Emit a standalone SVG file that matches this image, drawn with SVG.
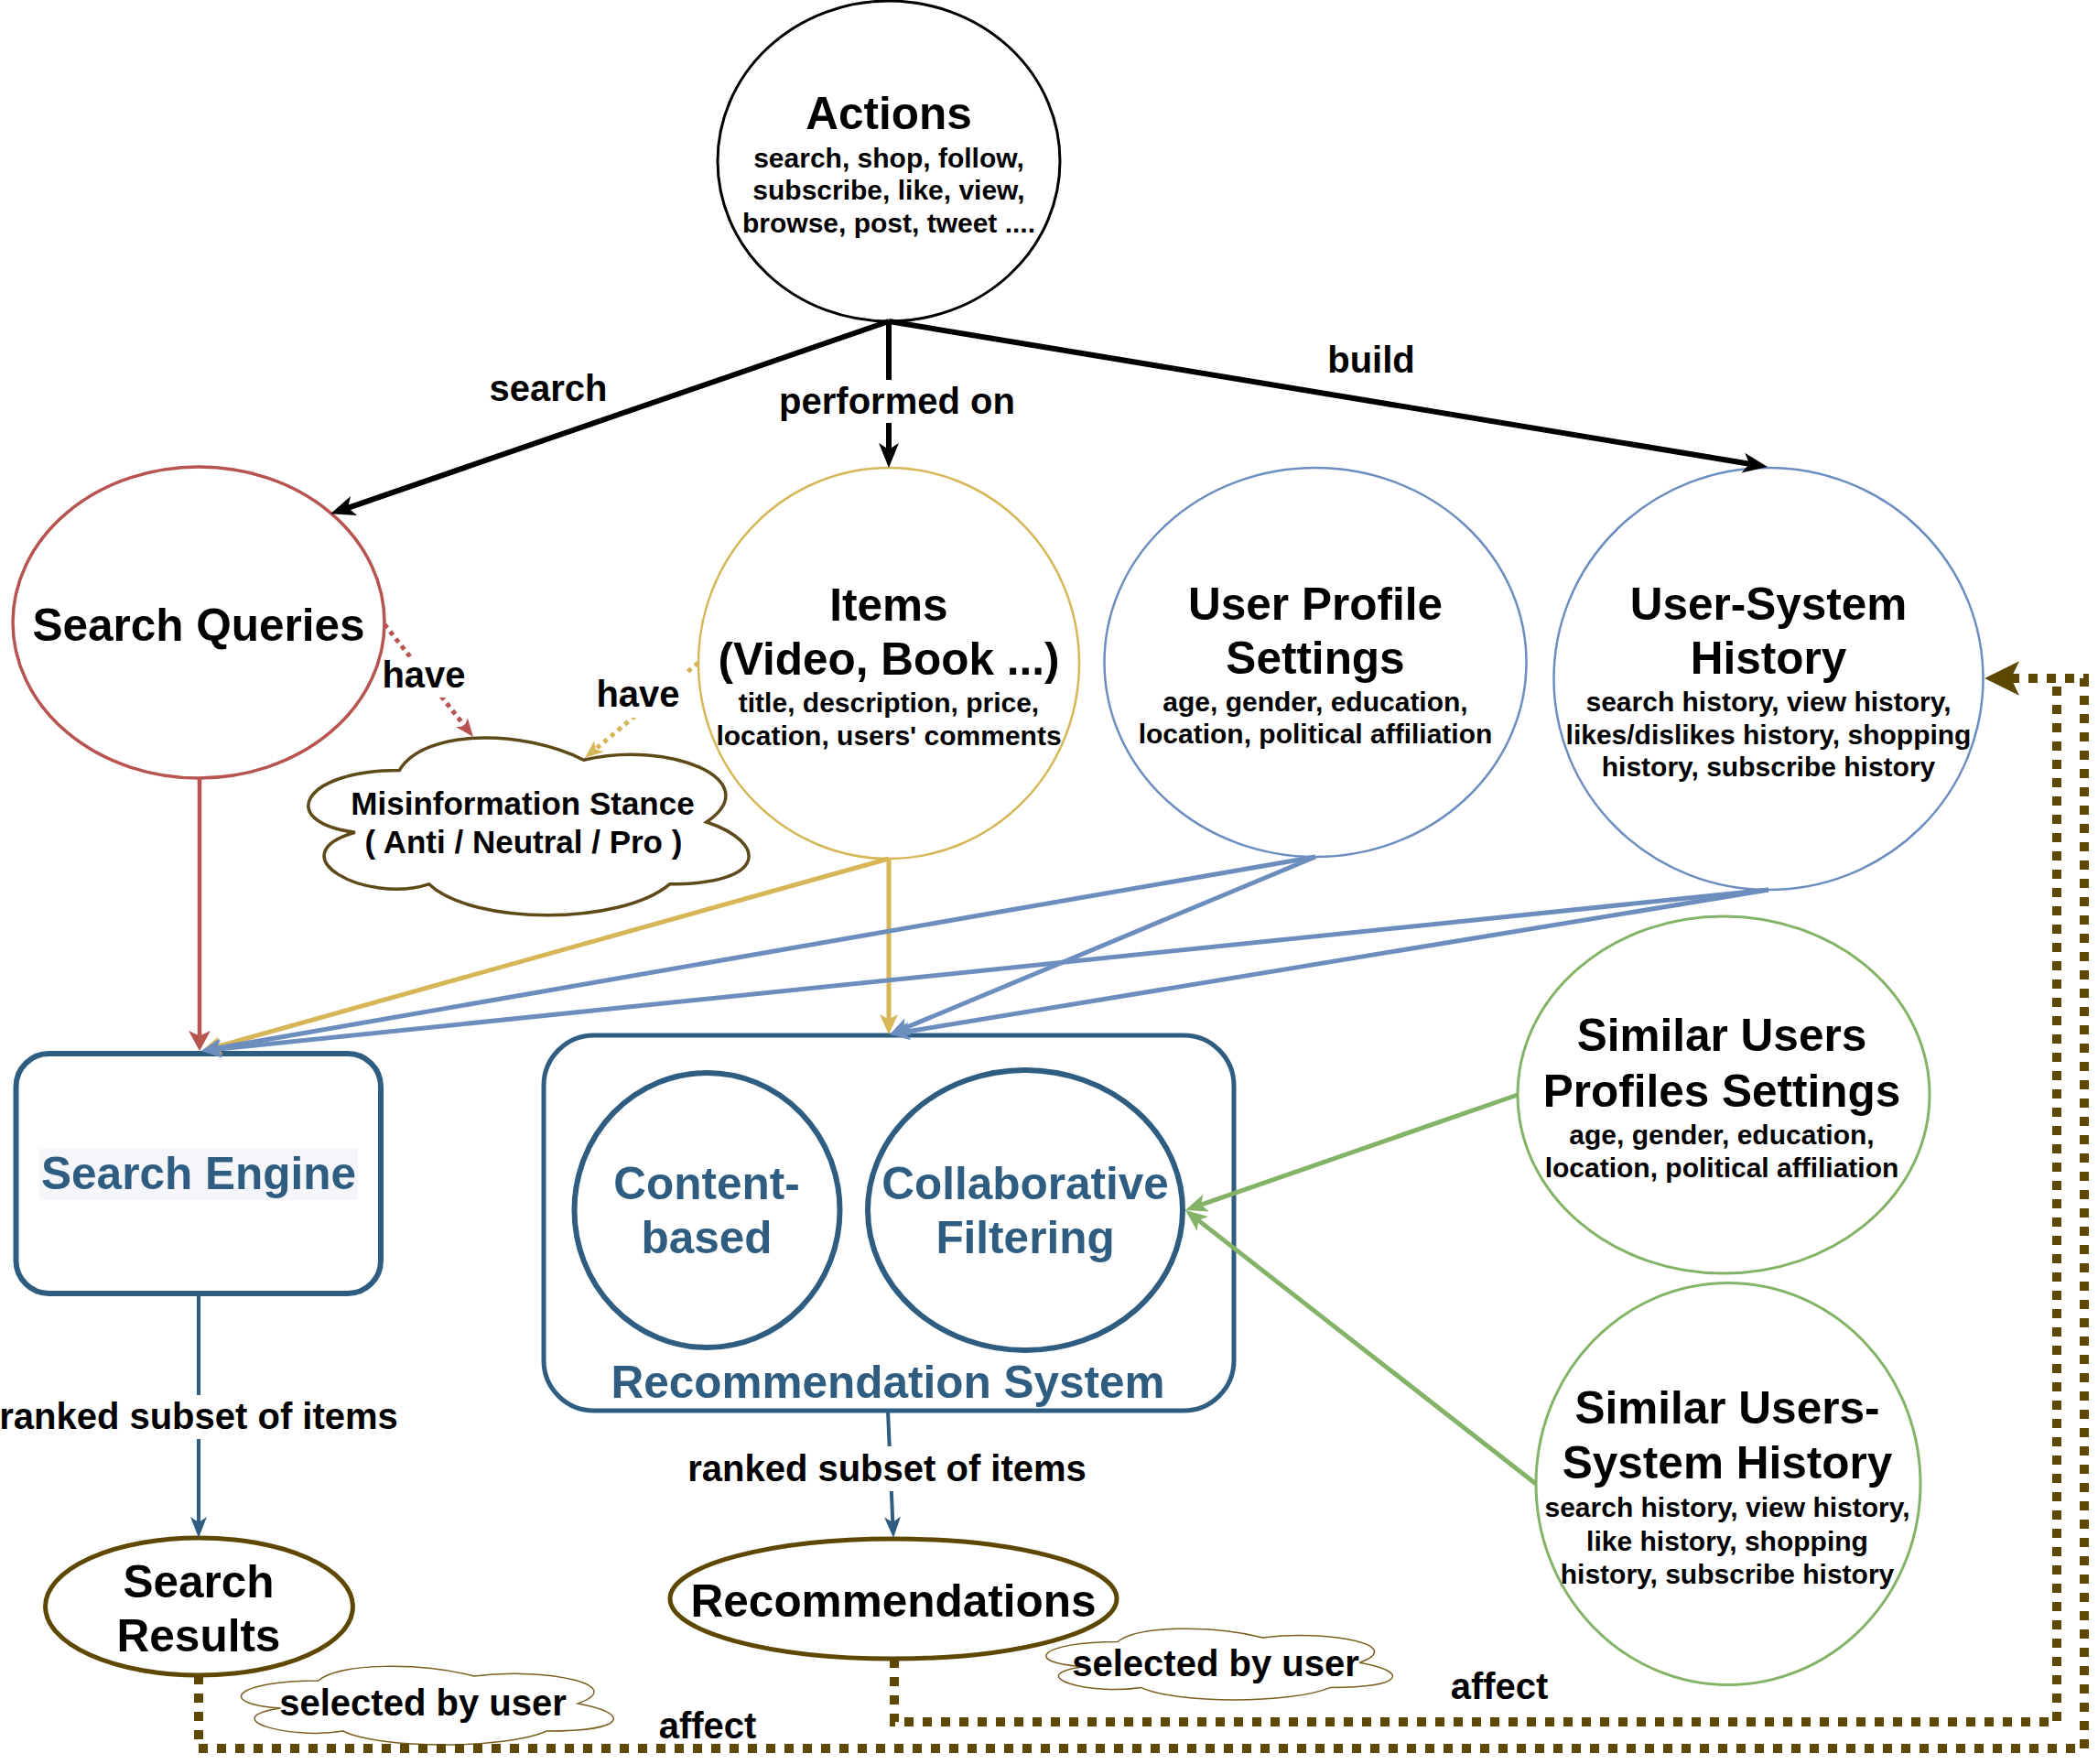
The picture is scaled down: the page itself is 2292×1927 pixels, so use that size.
<svg xmlns="http://www.w3.org/2000/svg" width="2292" height="1927" viewBox="0 0 2292 1927">
<style>
text{font-family:"Liberation Sans",Arial,Helvetica,sans-serif;font-weight:bold;text-anchor:middle;fill:#000}
.h{font-size:49.5px}
.s{font-size:30px}
.m{font-size:35px}
.l{font-size:40px}
.db{fill:#2f5d82}
.nd{fill:#fff}
.bg{fill:#fff;stroke:none}
.blk{stroke:#000;stroke-width:6}
.red{stroke:#b85450}
.yel{stroke:#d6b656}
.blu{stroke:#6c8ebf}
.grn{stroke:#82b366}
.nav{stroke:#2f5d82}
.brn{stroke:#5e4700;stroke-width:10;stroke-dasharray:10 10}
</style>
<defs>
<marker id="mk-black" markerUnits="userSpaceOnUse" viewBox="-40 -20 42 40" markerWidth="42" markerHeight="40" refX="-20" refY="0" orient="auto"><path d="M0,0 L-27,-11 L-20,0 L-27,11 Z" fill="#000"/></marker>
<marker id="mk-red" markerUnits="userSpaceOnUse" viewBox="-40 -20 42 40" markerWidth="42" markerHeight="40" refX="-16.5" refY="0" orient="auto"><path d="M0,0 L-22,-12 L-16.5,0 L-22,12 Z" fill="#b85450"/></marker>
<marker id="mk-red-s" markerUnits="userSpaceOnUse" viewBox="-40 -20 42 40" markerWidth="42" markerHeight="40" refX="-15" refY="0" orient="auto"><path d="M0,0 L-20,-8 L-15,0 L-20,8 Z" fill="#b85450"/></marker>
<marker id="mk-yel" markerUnits="userSpaceOnUse" viewBox="-40 -20 42 40" markerWidth="42" markerHeight="40" refX="-16.5" refY="0" orient="auto"><path d="M0,0 L-22,-10 L-16.5,0 L-22,10 Z" fill="#d6b656"/></marker>
<marker id="mk-yel-s" markerUnits="userSpaceOnUse" viewBox="-40 -20 42 40" markerWidth="42" markerHeight="40" refX="-15" refY="0" orient="auto"><path d="M0,0 L-20,-8 L-15,0 L-20,8 Z" fill="#d6b656"/></marker>
<marker id="mk-blu" markerUnits="userSpaceOnUse" viewBox="-40 -20 42 40" markerWidth="42" markerHeight="40" refX="-16.5" refY="0" orient="auto"><path d="M0,0 L-22,-10 L-16.5,0 L-22,10 Z" fill="#6c8ebf"/></marker>
<marker id="mk-grn" markerUnits="userSpaceOnUse" viewBox="-40 -20 42 40" markerWidth="42" markerHeight="40" refX="-18" refY="0" orient="auto"><path d="M0,0 L-24,-10 L-18,0 L-24,10 Z" fill="#82b366"/></marker>
<marker id="mk-nav" markerUnits="userSpaceOnUse" viewBox="-40 -20 42 40" markerWidth="42" markerHeight="40" refX="-17" refY="0" orient="auto"><path d="M0,0 L-23,-9 L-17,0 L-23,9 Z" fill="#2f5d82"/></marker>
<marker id="mk-brn" markerUnits="userSpaceOnUse" viewBox="-50 -25 52 50" markerWidth="52" markerHeight="50" refX="-29" refY="0" orient="auto"><path d="M0,0 L-38,-18.7 L-29,0 L-38,18.7 Z" fill="#5e4700"/></marker>
</defs>
<rect x="0" y="0" width="2292" height="1927" fill="#fff"/>

<g id="n-actions">
<ellipse class="nd" cx="971" cy="176" rx="187" ry="175" stroke="#000" stroke-width="3"/>
<text class="h" x="971" y="141">Actions</text>
<text class="s" x="971" y="183">search, shop, follow,</text>
<text class="s" x="971" y="218">subscribe, like, view,</text>
<text class="s" x="971" y="254">browse, post, tweet ....</text>
</g>

<g id="n-search-queries">
<ellipse class="nd" cx="217" cy="680" rx="203" ry="170" stroke="#b85450" stroke-width="3.5"/>
<text class="h" x="217" y="700">Search Queries</text>
</g>

<g id="n-items">
<ellipse class="nd" cx="971" cy="724.5" rx="208" ry="213.5" stroke="#d6b656" stroke-width="2.5"/>
<text class="h" x="971" y="678">Items</text>
<text class="h" x="971" y="737">(Video, Book ...)</text>
<text class="s" x="971" y="778">title, description, price,</text>
<text class="s" x="971" y="814">location, users' comments</text>
</g>

<g id="n-misinfo">
<path class="nd" d="M436.3,841.5 C328.9,841.5 302,898 387.9,909.3 C302,934.2 398.7,988.4 468.5,965.8 C516.8,1011 677.9,1011 731.6,965.8 C839,965.8 839,920.6 771.9,898 C839,852.8 731.6,807.6 637.6,830.2 C570.5,796.3 463.1,796.3 436.3,841.5 Z" stroke="#5e4a18" stroke-width="3.5"/>
<text class="m" x="571" y="890">Misinformation Stance</text>
<text class="m" x="572" y="932">( Anti / Neutral / Pro )</text>
</g>

<g id="n-user-profile">
<ellipse class="nd" cx="1437" cy="723.5" rx="230.5" ry="212.5" stroke="#6c8ebf" stroke-width="2.5"/>
<text class="h" x="1437" y="677">User Profile</text>
<text class="h" x="1437" y="736">Settings</text>
<text class="s" x="1437" y="777">age, gender, education,</text>
<text class="s" x="1437" y="812">location, political affiliation</text>
</g>

<g id="n-user-history">
<ellipse class="nd" cx="1932" cy="741.5" rx="234.5" ry="230.5" stroke="#6c8ebf" stroke-width="2.5"/>
<text class="h" x="1932" y="677">User-System</text>
<text class="h" x="1932" y="736">History</text>
<text class="s" x="1932" y="777">search history, view history,</text>
<text class="s" x="1932" y="812.5">likes/dislikes history, shopping</text>
<text class="s" x="1932" y="848">history, subscribe history</text>
</g>

<g id="n-search-engine">
<rect class="nd" x="17.5" y="1151" width="398.5" height="262" rx="36" ry="36" stroke="#2f5d82" stroke-width="6"/>
<rect x="43" y="1255" width="348" height="56" fill="#f4f6f9"/>
<text class="h db" x="217" y="1299">Search Engine</text>
</g>

<g id="n-rec-system">
<rect class="nd" x="594" y="1131" width="754" height="410" rx="55" ry="55" stroke="#2f5d82" stroke-width="5"/>
<text class="h db" x="970" y="1527">Recommendation System</text>
</g>

<g id="n-content">
<ellipse class="nd" cx="772.5" cy="1322" rx="145" ry="150" stroke="#2f5d82" stroke-width="6"/>
<text class="h db" x="772" y="1310">Content-</text>
<text class="h db" x="772" y="1369">based</text>
</g>

<g id="n-collab">
<ellipse class="nd" cx="1120" cy="1322" rx="172" ry="153" stroke="#2f5d82" stroke-width="6"/>
<text class="h db" x="1120" y="1310">Collaborative</text>
<text class="h db" x="1120" y="1369">Filtering</text>
</g>

<g id="n-similar-profiles">
<ellipse class="nd" cx="1883" cy="1196" rx="225" ry="195" stroke="#82b366" stroke-width="3"/>
<text class="h" x="1881" y="1148">Similar Users</text>
<text class="h" x="1881" y="1209">Profiles Settings</text>
<text class="s" x="1881" y="1250">age, gender, education,</text>
<text class="s" x="1881" y="1286">location, political affiliation</text>
</g>

<g id="n-similar-history">
<ellipse class="nd" cx="1888" cy="1621" rx="210" ry="219.5" stroke="#82b366" stroke-width="3"/>
<text class="h" x="1887" y="1555">Similar Users-</text>
<text class="h" x="1887" y="1615">System History</text>
<text class="s" x="1887" y="1657">search history, view history,</text>
<text class="s" x="1887" y="1694">like history, shopping</text>
<text class="s" x="1887" y="1730">history, subscribe history</text>
</g>

<g id="n-search-results">
<ellipse class="nd" cx="217.5" cy="1755" rx="168" ry="75" stroke="#5e4700" stroke-width="5"/>
<text class="h" x="217" y="1745">Search</text>
<text class="h" x="217" y="1804">Results</text>
</g>

<g id="n-recommendations">
<ellipse class="nd" cx="976" cy="1746.5" rx="244" ry="65.5" stroke="#5e4700" stroke-width="5"/>
<text class="h" x="976" y="1766">Recommendations</text>
</g>

<g id="n-selected-1">
<path class="nd" d="M347.5,1836 C256.7,1836 234,1861 306.6,1866 C234,1877 315.7,1901 374.7,1891 C415.6,1911 551.8,1911 597.2,1891 C688,1891 688,1871 631.3,1861 C688,1841 597.2,1821 517.8,1831 C461,1816 370.2,1816 347.5,1836 Z" stroke="#7a5f22" stroke-width="1.5"/>
<text class="l" x="462" y="1874">selected by user</text>
</g>

<g id="n-selected-2">
<path class="nd" d="M1221,1793.5 C1136.5,1793.5 1115.4,1816.2 1183,1820.7 C1115.4,1830.7 1191.5,1852.4 1246.4,1843.4 C1284.4,1861.5 1411.2,1861.5 1453.4,1843.4 C1537.9,1843.4 1537.9,1825.2 1485.1,1816.2 C1537.9,1798 1453.4,1779.9 1379.5,1788.9 C1326.7,1775.3 1242.2,1775.3 1221,1793.5 Z" stroke="#7a5f22" stroke-width="1.5"/>
<text class="l" x="1328" y="1831">selected by user</text>
</g>

<g id="connectors" fill="none">
<path class="blk" d="M971,351 L380,554.8" marker-end="url(#mk-black)"/>
<path class="blk" d="M971,351 L971,491" marker-end="url(#mk-black)"/>
<path class="blk" d="M971,351 L1911.3,506.7" marker-end="url(#mk-black)"/>
<path class="red" stroke-width="4.5" d="M218,850 L218,1131.5" marker-end="url(#mk-red)"/>
<path class="red" stroke-width="5" stroke-dasharray="5 5" d="M420,682 L507.7,793.2" marker-end="url(#mk-red-s)"/>
<path class="yel" stroke-width="5" stroke-dasharray="5 5" d="M763,724 L650.5,818.4" marker-end="url(#mk-yel-s)"/>
<path class="yel" stroke-width="5" d="M971,938 L235.9,1143.6" marker-end="url(#mk-yel)"/>
<path class="yel" stroke-width="5" d="M971,938 L971,1113.5" marker-end="url(#mk-yel)"/>
<path class="blu" stroke-width="5" d="M1437,936 L236.3,1145.2" marker-end="url(#mk-blu)"/>
<path class="blu" stroke-width="5" d="M1437,936 L987.2,1123.6" marker-end="url(#mk-blu)"/>
<path class="blu" stroke-width="5" d="M1932,972 L236.4,1146.3" marker-end="url(#mk-blu)"/>
<path class="blu" stroke-width="5" d="M1932,972 L988.3,1127.3" marker-end="url(#mk-blu)"/>
<path class="grn" stroke-width="5" d="M1658,1196 L1312,1316.1" marker-end="url(#mk-grn)"/>
<path class="grn" stroke-width="5" d="M1678,1621 L1309.2,1333.1" marker-end="url(#mk-grn)"/>
<path class="nav" stroke-width="4" d="M217,1413 L217,1663" marker-end="url(#mk-nav)"/>
<path class="nav" stroke-width="4" d="M970,1541 L975.3,1663" marker-end="url(#mk-nav)"/>
<path class="brn" d="M217,1830 V1910 H2277 V741 H2197" marker-end="url(#mk-brn)"/>
<path class="brn" d="M977,1812 V1881 H2247 V741"/>

<text class="l" x="599" y="438">search</text>
<rect class="bg" x="848" y="415" width="264" height="47"/>
<text class="l" x="980" y="452">performed on</text>
<text class="l" x="1498" y="407">build</text>
<rect class="bg" x="417" y="718" width="92" height="44"/>
<text class="l" x="463" y="751">have</text>
<rect class="bg" x="650" y="735" width="100" height="49"/>
<text class="l" x="697" y="772">have</text>
<rect class="bg" x="0" y="1524" width="436" height="48"/>
<text class="l" x="217" y="1561">ranked subset of items</text>
<rect class="bg" x="750" y="1580" width="438" height="49"/>
<text class="l" x="969" y="1618">ranked subset of items</text>
<text class="l" x="773" y="1899">affect</text>
<text class="l" x="1638" y="1856">affect</text>
</g>
</svg>
